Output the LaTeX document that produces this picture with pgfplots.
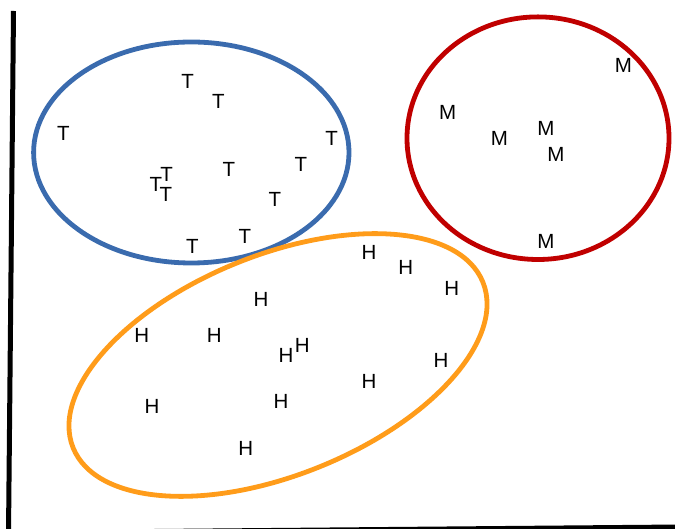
\documentclass[border=0pt]{standalone}
\usepackage{fontspec}
\setmainfont{Liberation Sans}
\usepackage{pgfplots}
\pgfplotsset{compat=1.18}

\definecolor{grpT}{HTML}{3A6BAE}
\definecolor{grpM}{HTML}{C00000}
\definecolor{grpH}{HTML}{FF9C1A}

\begin{document}
\begin{tikzpicture}
\begin{axis}[
    scale only axis,
    width=675bp, height=529bp,
    xmin=0, xmax=675, ymin=0, ymax=529,
    hide axis,
    clip bounding box=upper bound,
    text mark as node=true,
    text mark style={font=\fontsize{20.5bp}{21bp}\selectfont, inner sep=0pt, anchor=center},
]
    % frame of the sketch (hand drawn axes)
    \addplot[black, line width=5bp] coordinates {(13.5,518) (8.5,-5)};
    \addplot[black, line width=4.5bp] coordinates {(8,-3.5) (675,2.2)};

    % cluster outlines
    \draw[grpT, line width=4.8bp] (axis cs:191.3,376.5) ellipse [x radius=157.7bp, y radius=110.5bp];
    \draw[grpM, line width=4.8bp] (axis cs:538,390.8) ellipse [x radius=131bp, y radius=121.3bp];
    \draw[grpH, line width=4.8bp] (axis cs:278,164) ellipse [x radius=221bp, y radius=110bp, rotate=22];

    % T points
    \addplot[only marks, mark=text, text mark={T}] coordinates {
        (187.7,448) (218.3,427.3) (63.3,395.7) (331.7,390.7)
        (166.7,354.7) (156,345) (166,334.7) (229,360)
        (301,365) (275,329.7) (192.3,282.3) (245,293)
    };
    % M points
    \addplot[only marks, mark=text, text mark={M}] coordinates {
        (623.3,463.3) (447.7,416.3) (499.3,390.7) (546,400.7)
        (556,374.7) (546,288)
    };
    % H points
    \addplot[only marks, mark=text, text mark={H}] coordinates {
        (369,276.7) (405.7,261.3) (451.7,240.3) (261,230)
        (141.7,194) (214.3,194) (302.3,183.3) (286,174)
        (441,169) (369,147.7) (152,122.3) (281,127.3)
        (245.7,80.7)
    };

    \addplot[draw=none] coordinates {(0,0) (675,529)};
\end{axis}
\end{tikzpicture}
\end{document}
